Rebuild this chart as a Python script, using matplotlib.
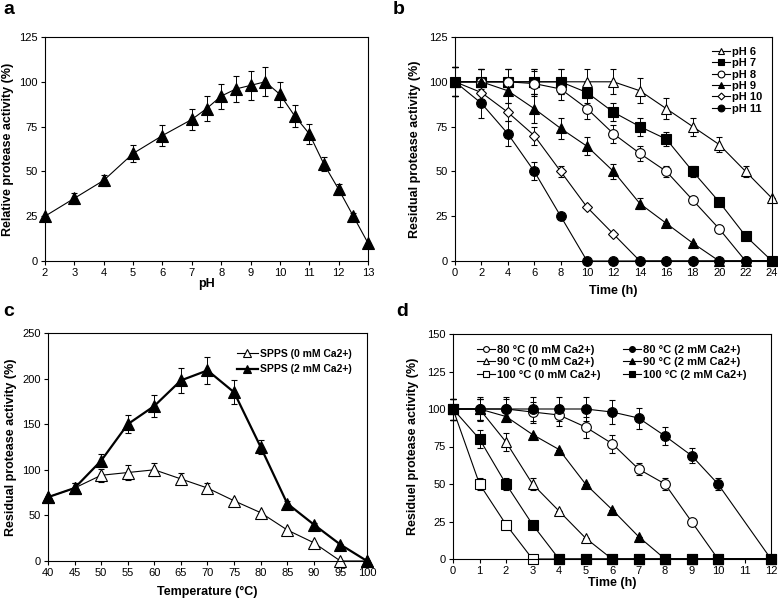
import numpy as np
import matplotlib
matplotlib.use("Agg")
import matplotlib.pyplot as plt

plt.rcParams['font.family'] = ['Liberation Sans', 'DejaVu Sans']
plt.rcParams['font.size'] = 9

# panel a: pH optimum
ph = [2, 3, 4, 5, 6, 7, 7.5, 8, 8.5, 9, 9.5, 10, 10.5, 11, 11.5, 12, 12.5, 13]
ph_act = [25, 35, 45, 60, 70, 79, 85, 92, 96, 98, 100, 93, 81, 71, 54, 40, 25, 10]
ph_err = [0, 3, 3, 5, 6, 6, 7, 7, 7.5, 8, 8, 7, 6, 5.5, 4, 3, 2, 0]

# panel b: pH stability
time_b = [0, 2, 4, 6, 8, 10, 12, 14, 16, 18, 20, 22, 24]
ph6 = [100, 100, 100, 100, 100, 100, 100, 95, 85, 75, 65, 50, 35]
ph7 = [100, 100, 100, 100, 100, 94, 83, 75, 68, 50, 33, 14, 0]
ph8 = [100, 100, 100, 99, 96, 85, 71, 60, 50, 34, 18, 0, 0]
ph9 = [100, 100, 95, 85, 74, 64, 50, 32, 21, 10, 0, 0, 0]
ph10 = [100, 94, 83, 70, 50, 30, 15, 0, 0, 0, 0, 0, 0]
ph11 = [100, 88, 71, 50, 25, 0, 0, 0, 0, 0, 0, 0, 0]
ph6_err = [8, 7, 7, 7, 7, 7, 7, 7, 6, 5, 4, 3, 0]
ph7_err = [8, 7, 7, 7, 7, 6, 5, 5, 4, 3, 0, 0, 0]
ph8_err = [8, 7, 7, 7, 6, 6, 5, 4, 3, 0, 0, 0, 0]
ph9_err = [8, 7, 7, 8, 6, 5, 4, 3, 0, 0, 0, 0, 0]
ph10_err = [8, 5, 5, 5, 3, 0, 0, 0, 0, 0, 0, 0, 0]
ph11_err = [8, 8, 7, 5, 0, 0, 0, 0, 0, 0, 0, 0, 0]

# panel c: temperature optimum
temp = [40, 45, 50, 55, 60, 65, 70, 75, 80, 85, 90, 95, 100]
ca0 = [70, 80, 94, 97, 100, 90, 80, 66, 53, 34, 20, 0, 0]
ca2 = [70, 80, 110, 150, 170, 198, 209, 185, 125, 63, 40, 18, 0]
ca0_err = [0, 5, 7, 8, 7, 6, 5, 0, 0, 0, 0, 0, 0]
ca2_err = [0, 5, 7, 10, 12, 14, 15, 13, 8, 3, 2, 1, 0]

# panel d: thermal stability
time_d = [0, 1, 2, 3, 4, 5, 6, 7, 8, 9, 10, 12]
t80_0 = [100, 100, 100, 98, 96, 88, 77, 60, 50, 25, 0, 0]
t80_2 = [100, 100, 100, 100, 100, 100, 98, 94, 82, 69, 50, 0]
t90_0 = [100, 100, 78, 50, 32, 14, 0, 0, 0, 0, 0, 0]
t90_2 = [100, 100, 95, 83, 73, 50, 33, 15, 0, 0, 0, 0]
t100_0 = [100, 50, 23, 0, 0, 0, 0, 0, 0, 0, 0, 0]
t100_2 = [100, 80, 50, 23, 0, 0, 0, 0, 0, 0, 0, 0]
t80_0_err = [7, 7, 7, 7, 7, 7, 6, 4, 4, 0, 0, 0]
t80_2_err = [7, 8, 8, 8, 8, 8, 8, 7, 6, 5, 4, 0]
t90_0_err = [7, 7, 6, 4, 0, 0, 0, 0, 0, 0, 0, 0]
t90_2_err = [7, 7, 3, 0, 0, 0, 0, 0, 0, 0, 0, 0]
t100_0_err = [7, 4, 0, 0, 0, 0, 0, 0, 0, 0, 0, 0]
t100_2_err = [7, 6, 4, 0, 0, 0, 0, 0, 0, 0, 0, 0]


def style(ax):
    for s in ax.spines.values():
        s.set_linewidth(0.8)
    ax.tick_params(direction='out', length=3, width=0.8, labelsize=8, pad=2)


def series(ax, x, y, err, marker, filled, ms=7, lw=0.8, label=None):
    c = ax.errorbar(x, y, yerr=err, color='black', lw=lw, marker=marker, ms=ms,
                    mfc='black' if filled else 'white', mec='black', mew=0.8,
                    ecolor='black', elinewidth=0.7, capsize=2, capthick=0.7,
                    clip_on=False)
    c[0].set_label(label)
    return c[0]


def legend(ax, handles, size=8, **kw):
    ax.legend(handles=handles, frameon=False, handletextpad=0.2,
              prop={'weight': 'bold', 'size': size}, **kw)


fig = plt.figure(figsize=(7.78, 6.08), dpi=100)
W, H = 778, 608


def make_ax(l, t, r, b):
    return fig.add_axes([l / W, 1 - b / H, (r - l) / W, (b - t) / H])


lab = dict(fontweight='bold', fontsize=9)

# a
ax = make_ax(45, 37, 368, 261)
series(ax, ph, ph_act, ph_err, '^', True, ms=9)
ax.set_xlim(2, 13)
ax.set_ylim(0, 125)
ax.set_xticks(range(2, 14))
ax.set_yticks(range(0, 126, 25))
ax.set_xlabel('pH', labelpad=0, **lab)
ax.set_ylabel('Relative protease activity (%)', labelpad=4, **lab)
style(ax)
fig.text(3 / W, 1 - 10 / H, 'a', fontsize=14, fontweight='bold', va='center')

# b
ax = make_ax(455, 37, 772, 261)
hb = [series(ax, time_b, ph6, ph6_err, '^', False, label='pH 6'),
      series(ax, time_b, ph7, ph7_err, 's', True, label='pH 7'),
      series(ax, time_b, ph8, ph8_err, 'o', False, label='pH 8'),
      series(ax, time_b, ph9, ph9_err, '^', True, label='pH 9'),
      series(ax, time_b, ph10, ph10_err, 'D', False, ms=5, label='pH 10'),
      series(ax, time_b, ph11, ph11_err, 'o', True, label='pH 11')]
ax.set_xlim(0, 24)
ax.set_ylim(0, 125)
ax.set_xticks(range(0, 25, 2))
ax.set_yticks(range(0, 126, 25))
ax.set_xlabel('Time (h)', labelpad=5, **lab)
ax.set_ylabel('Residual protease activity (%)', labelpad=6, **lab)
style(ax)
legend(ax, hb, loc='upper right', handlelength=1.6, labelspacing=0.12,
       borderaxespad=0.5, markerscale=0.7)
fig.text(393 / W, 1 - 10 / H, 'b', fontsize=14, fontweight='bold', va='center')

# c
ax = make_ax(48, 333, 367, 561)
hc = [series(ax, temp, ca0, ca0_err, '^', False, ms=9, label='SPPS (0 mM Ca2+)'),
      series(ax, temp, ca2, ca2_err, '^', True, ms=9, lw=1.6, label='SPPS (2 mM Ca2+)')]
ax.set_xlim(40, 100)
ax.set_ylim(0, 250)
ax.set_xticks(range(40, 101, 5))
ax.set_yticks(range(0, 251, 50))
ax.set_xlabel('Temperature (°C)', labelpad=6, **lab)
ax.set_ylabel('Residual protease activity (%)', labelpad=4, **lab)
style(ax)
legend(ax, hc, size=7.5, loc='upper right', handlelength=2.0,
       labelspacing=0.55, borderaxespad=1.1, markerscale=0.6)
fig.text(3 / W, 1 - 312 / H, 'c', fontsize=14, fontweight='bold', va='center')

# d
ax = make_ax(453, 334, 771, 559)
hd = [series(ax, time_d, t80_0, t80_0_err, 'o', False, label='80 °C (0 mM Ca2+)'),
      series(ax, time_d, t90_0, t90_0_err, '^', False, label='90 °C (0 mM Ca2+)'),
      series(ax, time_d, t100_0, t100_0_err, 's', False, label='100 °C (0 mM Ca2+)'),
      series(ax, time_d, t80_2, t80_2_err, 'o', True, label='80 °C (2 mM Ca2+)'),
      series(ax, time_d, t90_2, t90_2_err, '^', True, label='90 °C (2 mM Ca2+)'),
      series(ax, time_d, t100_2, t100_2_err, 's', True, label='100 °C (2 mM Ca2+)')]
ax.set_xlim(0, 12)
ax.set_ylim(0, 150)
ax.set_xticks(range(0, 13))
ax.set_yticks(range(0, 151, 25))
ax.set_xlabel('Time (h)', labelpad=1, **lab)
ax.set_ylabel('Residuel protease activity (%)', labelpad=6, **lab)
style(ax)
legend(ax, hd, loc='upper center', ncol=2, handlelength=1.6,
       labelspacing=0.2, columnspacing=2.0, borderaxespad=0.6,
       markerscale=0.6)
fig.text(396 / W, 1 - 312 / H, 'd', fontsize=14, fontweight='bold', va='center')

fig.savefig('out.png', dpi=100)
